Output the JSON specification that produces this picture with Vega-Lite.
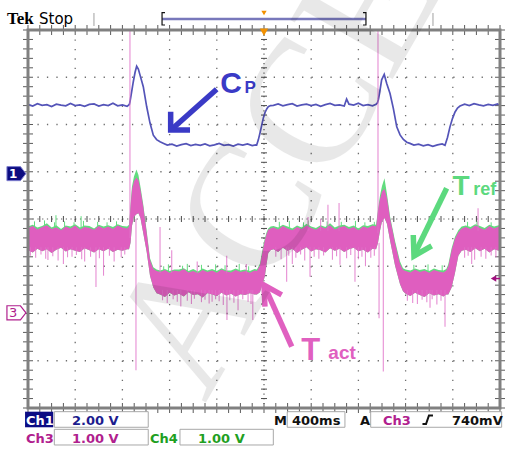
{
  "$schema": "https://vega.github.io/schema/vega-lite/v6.json",
  "width": 472,
  "height": 378,
  "autosize": {"type": "none"},
  "padding": {"left": 28, "top": 30, "right": 5, "bottom": 41},
  "background": "#ffffff",
  "config": {"view": {"stroke": null}},
  "resolve": {"scale": {"y": "independent"}},
  "datasets": {
    "vg": [{"t": -1600}, {"t": -1200}, {"t": -800}, {"t": -400}, {"t": 400}, {"t": 800}, {"t": 1200}, {"t": 1600}],
    "hg": [{"d": -3}, {"d": -2}, {"d": -1}, {"d": 1}, {"d": 2}, {"d": 3}],
    "xt": [{"t": -2000}, {"t": -1900}, {"t": -1800}, {"t": -1700}, {"t": -1600}, {"t": -1500}, {"t": -1400}, {"t": -1300}, {"t": -1200}, {"t": -1100}, {"t": -1000}, {"t": -900}, {"t": -800}, {"t": -700}, {"t": -600}, {"t": -500}, {"t": -400}, {"t": -300}, {"t": -200}, {"t": -100}, {"t": 0}, {"t": 100}, {"t": 200}, {"t": 300}, {"t": 400}, {"t": 500}, {"t": 600}, {"t": 700}, {"t": 800}, {"t": 900}, {"t": 1000}, {"t": 1100}, {"t": 1200}, {"t": 1300}, {"t": 1400}, {"t": 1500}, {"t": 1600}, {"t": 1700}, {"t": 1800}, {"t": 1900}, {"t": 2000}],
    "yt": [{"d": -4}, {"d": -3.8}, {"d": -3.6}, {"d": -3.4}, {"d": -3.2}, {"d": -3}, {"d": -2.8}, {"d": -2.6}, {"d": -2.4}, {"d": -2.2}, {"d": -2}, {"d": -1.8}, {"d": -1.6}, {"d": -1.4}, {"d": -1.2}, {"d": -1}, {"d": -0.8}, {"d": -0.6}, {"d": -0.4}, {"d": -0.2}, {"d": 0}, {"d": 0.2}, {"d": 0.4}, {"d": 0.6}, {"d": 0.8}, {"d": 1}, {"d": 1.2}, {"d": 1.4}, {"d": 1.6}, {"d": 1.8}, {"d": 2}, {"d": 2.2}, {"d": 2.4}, {"d": 2.6}, {"d": 2.8}, {"d": 3}, {"d": 3.2}, {"d": 3.4}, {"d": 3.6}, {"d": 3.8}, {"d": 4}],
    "ch1": [
      {"t": -2000, "v": 2.85}, {"t": -1960, "v": 2.78}, {"t": -1920, "v": 2.88}, {"t": -1880, "v": 2.81}, {"t": -1840, "v": 2.84}, {"t": -1800, "v": 2.76}, {"t": -1760, "v": 2.86}, {"t": -1720, "v": 2.82}, {"t": -1680, "v": 2.79}, {"t": -1640, "v": 2.89}, {"t": -1600, "v": 2.80}, {"t": -1560, "v": 2.83}, {"t": -1520, "v": 2.77}, {"t": -1480, "v": 2.85}, {"t": -1440, "v": 2.87}, {"t": -1400, "v": 2.78}, {"t": -1360, "v": 2.84}, {"t": -1320, "v": 2.80}, {"t": -1280, "v": 2.90}, {"t": -1240, "v": 2.79}, {"t": -1200, "v": 2.83}, {"t": -1160, "v": 2.77},
      {"t": -1141, "v": 2.85}, {"t": -1136, "v": 2.95}, {"t": -1121, "v": 3.40}, {"t": -1108, "v": 3.80}, {"t": -1093, "v": 4.20}, {"t": -1079, "v": 4.47}, {"t": -1065, "v": 4.35}, {"t": -1051, "v": 4.10}, {"t": -1023, "v": 3.60}, {"t": -994, "v": 2.75}, {"t": -966, "v": 2.06}, {"t": -938, "v": 1.55}, {"t": -910, "v": 1.36}, {"t": -881, "v": 1.27}, {"t": -850, "v": 1.20},
      {"t": -820, "v": 1.13}, {"t": -780, "v": 1.17}, {"t": -740, "v": 1.09}, {"t": -700, "v": 1.15}, {"t": -660, "v": 1.19}, {"t": -620, "v": 1.11}, {"t": -580, "v": 1.16}, {"t": -540, "v": 1.12}, {"t": -500, "v": 1.18}, {"t": -460, "v": 1.10}, {"t": -420, "v": 1.14}, {"t": -380, "v": 1.20}, {"t": -340, "v": 1.12}, {"t": -300, "v": 1.15}, {"t": -260, "v": 1.09}, {"t": -220, "v": 1.17}, {"t": -180, "v": 1.13}, {"t": -140, "v": 1.18}, {"t": -100, "v": 1.11}, {"t": -70, "v": 1.14},
      {"t": -62, "v": 1.13}, {"t": -48, "v": 1.35}, {"t": -34, "v": 1.64}, {"t": -20, "v": 1.95}, {"t": -6, "v": 2.27}, {"t": 8, "v": 2.50}, {"t": 22, "v": 2.65}, {"t": 36, "v": 2.75}, {"t": 56, "v": 2.80},
      {"t": 80, "v": 2.81}, {"t": 120, "v": 2.87}, {"t": 160, "v": 2.79}, {"t": 200, "v": 2.84}, {"t": 240, "v": 2.88}, {"t": 280, "v": 2.78}, {"t": 320, "v": 2.83}, {"t": 360, "v": 2.86}, {"t": 400, "v": 2.80}, {"t": 440, "v": 2.85}, {"t": 480, "v": 2.77}, {"t": 520, "v": 2.84}, {"t": 560, "v": 2.89}, {"t": 600, "v": 2.81}, {"t": 640, "v": 2.83}, {"t": 680, "v": 2.78}, {"t": 700, "v": 3.08}, {"t": 720, "v": 2.86}, {"t": 760, "v": 2.82}, {"t": 800, "v": 2.90}, {"t": 840, "v": 2.80}, {"t": 880, "v": 2.84}, {"t": 920, "v": 2.79}, {"t": 950, "v": 2.86},
      {"t": 962, "v": 2.92}, {"t": 969, "v": 3.05}, {"t": 983, "v": 3.45}, {"t": 997, "v": 3.89}, {"t": 1019, "v": 4.12}, {"t": 1040, "v": 3.74}, {"t": 1068, "v": 3.31}, {"t": 1096, "v": 2.68}, {"t": 1125, "v": 1.90}, {"t": 1153, "v": 1.56}, {"t": 1181, "v": 1.37}, {"t": 1210, "v": 1.25}, {"t": 1237, "v": 1.20},
      {"t": 1270, "v": 1.13}, {"t": 1310, "v": 1.17}, {"t": 1350, "v": 1.10}, {"t": 1390, "v": 1.15}, {"t": 1430, "v": 1.08}, {"t": 1470, "v": 1.14}, {"t": 1510, "v": 1.18}, {"t": 1534, "v": 1.12},
      {"t": 1555, "v": 1.45}, {"t": 1576, "v": 1.90}, {"t": 1597, "v": 2.25}, {"t": 1619, "v": 2.53}, {"t": 1640, "v": 2.70}, {"t": 1661, "v": 2.78},
      {"t": 1700, "v": 2.86}, {"t": 1740, "v": 2.80}, {"t": 1780, "v": 2.88}, {"t": 1820, "v": 2.83}, {"t": 1860, "v": 2.79}, {"t": 1900, "v": 2.85}, {"t": 1940, "v": 2.81}, {"t": 1980, "v": 2.87}, {"t": 2000, "v": 2.80}
    ],
    "ch34": [
      {"t": -2000, "lo": 1.34, "hi": 1.81, "g": 1.84}, {"t": -1960, "lo": 1.29, "hi": 1.85, "g": 1.88}, {"t": -1920, "lo": 1.37, "hi": 1.78, "g": 1.82}, {"t": -1880, "lo": 1.32, "hi": 1.83, "g": 1.85}, {"t": -1840, "lo": 1.36, "hi": 1.87, "g": 1.91}, {"t": -1800, "lo": 1.28, "hi": 1.79, "g": 1.82}, {"t": -1760, "lo": 1.35, "hi": 1.82, "g": 1.87}, {"t": -1720, "lo": 1.39, "hi": 1.76, "g": 1.79}, {"t": -1680, "lo": 1.31, "hi": 1.84, "g": 1.86}, {"t": -1640, "lo": 1.36, "hi": 1.80, "g": 1.84}, {"t": -1600, "lo": 1.33, "hi": 1.86, "g": 1.89}, {"t": -1560, "lo": 1.30, "hi": 1.78, "g": 1.82}, {"t": -1520, "lo": 1.38, "hi": 1.83, "g": 1.86}, {"t": -1480, "lo": 1.34, "hi": 1.81, "g": 1.85}, {"t": -1440, "lo": 1.29, "hi": 1.77, "g": 1.80}, {"t": -1400, "lo": 1.36, "hi": 1.85, "g": 1.88}, {"t": -1360, "lo": 1.32, "hi": 1.80, "g": 1.84}, {"t": -1320, "lo": 1.37, "hi": 1.84, "g": 1.87}, {"t": -1280, "lo": 1.30, "hi": 1.79, "g": 1.83}, {"t": -1240, "lo": 1.35, "hi": 1.86, "g": 1.89}, {"t": -1200, "lo": 1.33, "hi": 1.82, "g": 1.85}, {"t": -1160, "lo": 1.36, "hi": 1.80, "g": 1.84},
      {"t": -1144, "lo": 1.36, "hi": 1.84, "g": 1.88}, {"t": -1131, "lo": 1.50, "hi": 2.25, "g": 2.30}, {"t": -1119, "lo": 1.85, "hi": 2.62, "g": 2.68}, {"t": -1102, "lo": 2.05, "hi": 2.80, "g": 2.90}, {"t": -1081, "lo": 2.10, "hi": 2.88, "g": 3.05}, {"t": -1064, "lo": 2.12, "hi": 2.82, "g": 2.93}, {"t": -1047, "lo": 2.02, "hi": 2.62, "g": 2.68}, {"t": -1023, "lo": 1.70, "hi": 2.26, "g": 2.30}, {"t": -994, "lo": 1.30, "hi": 1.70, "g": 1.74}, {"t": -966, "lo": 0.80, "hi": 1.13, "g": 1.17}, {"t": -938, "lo": 0.55, "hi": 0.94, "g": 0.98}, {"t": -910, "lo": 0.43, "hi": 0.90, "g": 0.93},
      {"t": -880, "lo": 0.40, "hi": 0.88, "g": 0.91}, {"t": -840, "lo": 0.35, "hi": 0.92, "g": 0.94}, {"t": -800, "lo": 0.44, "hi": 0.86, "g": 0.90}, {"t": -760, "lo": 0.38, "hi": 0.91, "g": 0.93}, {"t": -720, "lo": 0.42, "hi": 0.89, "g": 0.93}, {"t": -680, "lo": 0.36, "hi": 0.94, "g": 0.96}, {"t": -640, "lo": 0.45, "hi": 0.87, "g": 0.90}, {"t": -600, "lo": 0.39, "hi": 0.90, "g": 0.94}, {"t": -560, "lo": 0.41, "hi": 0.85, "g": 0.89}, {"t": -520, "lo": 0.34, "hi": 0.92, "g": 0.95}, {"t": -480, "lo": 0.43, "hi": 0.88, "g": 0.91}, {"t": -440, "lo": 0.40, "hi": 0.91, "g": 0.94}, {"t": -400, "lo": 0.37, "hi": 0.86, "g": 0.90}, {"t": -360, "lo": 0.44, "hi": 0.93, "g": 0.96}, {"t": -320, "lo": 0.38, "hi": 0.89, "g": 0.91}, {"t": -280, "lo": 0.42, "hi": 0.87, "g": 0.91}, {"t": -240, "lo": 0.36, "hi": 0.92, "g": 0.95}, {"t": -200, "lo": 0.41, "hi": 0.88, "g": 0.91}, {"t": -160, "lo": 0.39, "hi": 0.90, "g": 0.93}, {"t": -120, "lo": 0.43, "hi": 0.86, "g": 0.90}, {"t": -80, "lo": 0.40, "hi": 0.91, "g": 0.94},
      {"t": -60, "lo": 0.40, "hi": 0.90, "g": 0.93}, {"t": -34, "lo": 0.45, "hi": 1.02, "g": 1.06}, {"t": -19, "lo": 0.57, "hi": 1.22, "g": 1.27}, {"t": -5, "lo": 0.68, "hi": 1.40, "g": 1.45}, {"t": 8, "lo": 0.80, "hi": 1.56, "g": 1.60}, {"t": 22, "lo": 1.05, "hi": 1.68, "g": 1.72}, {"t": 36, "lo": 1.28, "hi": 1.77, "g": 1.80}, {"t": 56, "lo": 1.34, "hi": 1.80, "g": 1.84},
      {"t": 80, "lo": 1.36, "hi": 1.82, "g": 1.85}, {"t": 120, "lo": 1.30, "hi": 1.78, "g": 1.82}, {"t": 160, "lo": 1.39, "hi": 1.85, "g": 1.88}, {"t": 200, "lo": 1.33, "hi": 1.80, "g": 1.84}, {"t": 240, "lo": 1.37, "hi": 1.76, "g": 1.80}, {"t": 280, "lo": 1.28, "hi": 1.83, "g": 1.86}, {"t": 320, "lo": 1.35, "hi": 1.79, "g": 1.82}, {"t": 360, "lo": 1.40, "hi": 1.86, "g": 1.90}, {"t": 400, "lo": 1.31, "hi": 1.81, "g": 1.84}, {"t": 440, "lo": 1.36, "hi": 1.77, "g": 1.81}, {"t": 480, "lo": 1.34, "hi": 1.84, "g": 1.87}, {"t": 520, "lo": 1.29, "hi": 1.80, "g": 1.83}, {"t": 560, "lo": 1.38, "hi": 1.87, "g": 1.91}, {"t": 600, "lo": 1.33, "hi": 1.78, "g": 1.82}, {"t": 640, "lo": 1.37, "hi": 1.82, "g": 1.86}, {"t": 680, "lo": 1.30, "hi": 1.85, "g": 1.88}, {"t": 720, "lo": 1.36, "hi": 1.79, "g": 1.83}, {"t": 760, "lo": 1.39, "hi": 1.83, "g": 1.86}, {"t": 800, "lo": 1.32, "hi": 1.76, "g": 1.80}, {"t": 840, "lo": 1.35, "hi": 1.84, "g": 1.87}, {"t": 880, "lo": 1.29, "hi": 1.81, "g": 1.85}, {"t": 920, "lo": 1.37, "hi": 1.86, "g": 1.89}, {"t": 950, "lo": 1.36, "hi": 1.84, "g": 1.88},
      {"t": 966, "lo": 1.50, "hi": 2.15, "g": 2.20}, {"t": 983, "lo": 1.75, "hi": 2.42, "g": 2.50}, {"t": 1000, "lo": 1.95, "hi": 2.58, "g": 2.70}, {"t": 1021, "lo": 2.02, "hi": 2.64, "g": 2.86}, {"t": 1042, "lo": 1.90, "hi": 2.45, "g": 2.53}, {"t": 1068, "lo": 1.55, "hi": 2.02, "g": 2.06}, {"t": 1110, "lo": 1.02, "hi": 1.50, "g": 1.54}, {"t": 1153, "lo": 0.62, "hi": 1.05, "g": 1.10}, {"t": 1178, "lo": 0.47, "hi": 0.92, "g": 0.96},
      {"t": 1200, "lo": 0.42, "hi": 0.90, "g": 0.93}, {"t": 1240, "lo": 0.37, "hi": 0.87, "g": 0.91}, {"t": 1280, "lo": 0.44, "hi": 0.93, "g": 0.95}, {"t": 1320, "lo": 0.39, "hi": 0.88, "g": 0.92}, {"t": 1360, "lo": 0.35, "hi": 0.91, "g": 0.94}, {"t": 1400, "lo": 0.43, "hi": 0.86, "g": 0.90}, {"t": 1440, "lo": 0.38, "hi": 0.92, "g": 0.95}, {"t": 1480, "lo": 0.41, "hi": 0.89, "g": 0.92}, {"t": 1520, "lo": 0.36, "hi": 0.87, "g": 0.91}, {"t": 1545, "lo": 0.40, "hi": 0.91, "g": 0.94},
      {"t": 1562, "lo": 0.40, "hi": 1.00, "g": 1.04}, {"t": 1590, "lo": 0.55, "hi": 1.34, "g": 1.38}, {"t": 1618, "lo": 0.85, "hi": 1.58, "g": 1.62}, {"t": 1647, "lo": 1.22, "hi": 1.72, "g": 1.76}, {"t": 1675, "lo": 1.33, "hi": 1.80, "g": 1.84},
      {"t": 1710, "lo": 1.35, "hi": 1.83, "g": 1.86}, {"t": 1750, "lo": 1.30, "hi": 1.79, "g": 1.83}, {"t": 1790, "lo": 1.38, "hi": 1.86, "g": 1.89}, {"t": 1830, "lo": 1.32, "hi": 1.81, "g": 1.85}, {"t": 1870, "lo": 1.37, "hi": 1.77, "g": 1.81}, {"t": 1910, "lo": 1.29, "hi": 1.85, "g": 1.88}, {"t": 1950, "lo": 1.36, "hi": 1.80, "g": 1.84}, {"t": 1990, "lo": 1.33, "hi": 1.84, "g": 1.87}, {"t": 2000, "lo": 1.35, "hi": 1.82, "g": 1.86}
    ],
    "spikes": [
      {"t": -1136, "a": 6.0, "b": 1.6}, {"t": -1085, "a": 2.0, "b": -1.2}, {"t": 966, "a": 6.0, "b": 1.7}, {"t": 1011, "a": 2.0, "b": -1.23}, {"t": 975, "a": 1.5, "b": -0.10},
      {"t": -1831, "a": 1.4, "b": 1.13}, {"t": -1700, "a": 1.4, "b": 1.05}, {"t": -1627, "a": 1.4, "b": 1.20}, {"t": -1520, "a": 1.4, "b": 1.10}, {"t": -1424, "a": 1.4, "b": 0.56}, {"t": -1360, "a": 1.4, "b": 0.80},
      {"t": 192, "a": 1.4, "b": 0.67}, {"t": 240, "a": 1.4, "b": 1.05}, {"t": 390, "a": 1.4, "b": 0.78}, {"t": 644, "a": 1.4, "b": 1.03}, {"t": 771, "a": 1.4, "b": 0.67}, {"t": 860, "a": 1.4, "b": 1.00}, {"t": 1760, "a": 1.4, "b": 1.05},
      {"t": 373, "a": 2.04, "b": 1.75}, {"t": 480, "a": 2.0, "b": 1.75}, {"t": 542, "a": 2.30, "b": 1.75}, {"t": 636, "a": 2.34, "b": 1.75}, {"t": 1814, "a": 2.23, "b": 1.75},
      {"t": -881, "a": 1.83, "b": 0.85}, {"t": -782, "a": 1.34, "b": 0.85}, {"t": -566, "a": 1.10, "b": 0.85}, {"t": -316, "a": 1.22, "b": 0.85}, {"t": -150, "a": 1.05, "b": 0.85},
      {"t": -705, "a": 0.5, "b": 0.15}, {"t": -440, "a": 0.5, "b": 0.25}, {"t": -314, "a": 0.5, "b": -0.14}, {"t": -220, "a": 0.5, "b": 0.07}, {"t": -95, "a": 0.5, "b": -0.14}, {"t": 1300, "a": 0.5, "b": 0.20}, {"t": 1407, "a": 0.5, "b": 0.12}, {"t": 1534, "a": 0.5, "b": -0.28},
      {"t": -1980, "a": 1.4, "b": 1.22}, {"t": -1935, "a": 1.4, "b": 1.18}, {"t": -1890, "a": 1.4, "b": 1.25}, {"t": -1850, "a": 1.4, "b": 1.16}, {"t": -1790, "a": 1.4, "b": 1.21}, {"t": -1745, "a": 1.4, "b": 1.12}, {"t": -1665, "a": 1.4, "b": 1.19}, {"t": -1590, "a": 1.4, "b": 1.24}, {"t": -1545, "a": 1.4, "b": 1.15}, {"t": -1470, "a": 1.4, "b": 1.20}, {"t": -1395, "a": 1.4, "b": 1.17}, {"t": -1310, "a": 1.4, "b": 1.22}, {"t": -1270, "a": 1.4, "b": 1.10}, {"t": -1210, "a": 1.4, "b": 1.19}, {"t": -1180, "a": 1.4, "b": 1.25},
      {"t": 100, "a": 1.4, "b": 1.20}, {"t": 145, "a": 1.4, "b": 1.15}, {"t": 210, "a": 1.4, "b": 1.22}, {"t": 270, "a": 1.4, "b": 1.18}, {"t": 310, "a": 1.4, "b": 1.25}, {"t": 345, "a": 1.4, "b": 1.12}, {"t": 425, "a": 1.4, "b": 1.20}, {"t": 465, "a": 1.4, "b": 1.16}, {"t": 505, "a": 1.4, "b": 1.23}, {"t": 580, "a": 1.4, "b": 1.14}, {"t": 615, "a": 1.4, "b": 1.21}, {"t": 700, "a": 1.4, "b": 1.17}, {"t": 735, "a": 1.4, "b": 1.24}, {"t": 800, "a": 1.4, "b": 1.15}, {"t": 830, "a": 1.4, "b": 1.20}, {"t": 905, "a": 1.4, "b": 1.18}, {"t": 935, "a": 1.4, "b": 1.22},
      {"t": 1700, "a": 1.4, "b": 1.18}, {"t": 1730, "a": 1.4, "b": 1.22}, {"t": 1785, "a": 1.4, "b": 1.14}, {"t": 1840, "a": 1.4, "b": 1.20}, {"t": 1880, "a": 1.4, "b": 1.16}, {"t": 1925, "a": 1.4, "b": 1.23}, {"t": 1965, "a": 1.4, "b": 1.19},
      {"t": -860, "a": 0.5, "b": 0.28}, {"t": -820, "a": 0.5, "b": 0.22}, {"t": -770, "a": 0.5, "b": 0.30}, {"t": -735, "a": 0.5, "b": 0.25}, {"t": -650, "a": 0.5, "b": 0.27}, {"t": -615, "a": 0.5, "b": 0.20}, {"t": -590, "a": 0.5, "b": 0.31}, {"t": -530, "a": 0.5, "b": 0.24}, {"t": -500, "a": 0.5, "b": 0.29}, {"t": -465, "a": 0.5, "b": 0.21}, {"t": -410, "a": 0.5, "b": 0.30}, {"t": -380, "a": 0.5, "b": 0.26}, {"t": -345, "a": 0.5, "b": 0.18}, {"t": -290, "a": 0.5, "b": 0.28}, {"t": -255, "a": 0.5, "b": 0.23}, {"t": -180, "a": 0.5, "b": 0.30}, {"t": -135, "a": 0.5, "b": 0.25}, {"t": -110, "a": 0.5, "b": 0.20},
      {"t": 1215, "a": 0.5, "b": 0.27}, {"t": 1260, "a": 0.5, "b": 0.22}, {"t": 1340, "a": 0.5, "b": 0.29}, {"t": 1380, "a": 0.5, "b": 0.24}, {"t": 1425, "a": 0.5, "b": 0.30}, {"t": 1465, "a": 0.5, "b": 0.19}, {"t": 1500, "a": 0.5, "b": 0.27}
    ],
    "gspikes": [
      {"t": -1945, "a": 1.95, "b": 1.75}, {"t": -1860, "a": 1.97, "b": 1.75}, {"t": -1775, "a": 1.93, "b": 1.75}, {"t": -1763, "a": 2.08, "b": 1.75}, {"t": -1690, "a": 1.95, "b": 1.75}, {"t": -1610, "a": 1.93, "b": 1.75}, {"t": -1550, "a": 2.06, "b": 1.75}, {"t": -1530, "a": 1.96, "b": 1.75}, {"t": -1410, "a": 1.94, "b": 1.75}, {"t": -1330, "a": 1.93, "b": 1.75}, {"t": -1250, "a": 1.95, "b": 1.75},
      {"t": 130, "a": 1.94, "b": 1.75}, {"t": 215, "a": 1.96, "b": 1.75}, {"t": 335, "a": 1.93, "b": 1.75}, {"t": 375, "a": 1.97, "b": 1.75}, {"t": 535, "a": 1.95, "b": 1.75}, {"t": 655, "a": 1.94, "b": 1.75}, {"t": 775, "a": 1.96, "b": 1.75}, {"t": 855, "a": 1.93, "b": 1.75}, {"t": 935, "a": 1.94, "b": 1.75},
      {"t": 1725, "a": 1.94, "b": 1.75}, {"t": 1805, "a": 1.95, "b": 1.75}, {"t": 1925, "a": 1.93, "b": 1.75},
      {"t": -850, "a": 1.00, "b": 0.85}, {"t": -810, "a": 1.04, "b": 0.85}, {"t": -690, "a": 1.01, "b": 0.85}, {"t": -650, "a": 1.05, "b": 0.85}, {"t": -530, "a": 1.03, "b": 0.85}, {"t": -410, "a": 1.04, "b": 0.85}, {"t": -330, "a": 1.02, "b": 0.85}, {"t": -210, "a": 1.05, "b": 0.85}, {"t": -130, "a": 1.00, "b": 0.85},
      {"t": 1270, "a": 1.03, "b": 0.85}, {"t": 1390, "a": 1.04, "b": 0.85}, {"t": 1510, "a": 1.02, "b": 0.85}
    ],
    "boxes": [
      {"t": -1777, "t2": -981, "d": -4.078, "d2": -4.408}, {"t": 197, "t2": 686, "d": -4.078, "d2": -4.408}, {"t": 904, "t2": 2014, "d": -4.078, "d2": -4.408},
      {"t": -1777, "t2": -981, "d": -4.451, "d2": -4.783}, {"t": -712, "t2": 79, "d": -4.451, "d2": -4.783}
    ],
    "arrowsCp": [
      {"p": "s", "k": 0, "t": -401, "d": 2.745}, {"p": "s", "k": 1, "t": -782, "d": 1.90},
      {"p": "h", "k": 0, "t": -791, "d": 2.271}, {"p": "h", "k": 1, "t": -791, "d": 1.884}, {"p": "h", "k": 2, "t": -627, "d": 1.884}
    ],
    "arrowsRef": [
      {"p": "s", "k": 0, "t": 1548, "d": 0.650}, {"p": "s", "k": 1, "t": 1276, "d": -0.74},
      {"p": "h", "k": 0, "t": 1265, "d": -0.339}, {"p": "h", "k": 1, "t": 1271, "d": -0.783}, {"p": "h", "k": 2, "t": 1421, "d": -0.571}
    ],
    "arrowsAct": [
      {"p": "s", "k": 0, "t": 235, "d": -2.703}, {"p": "s", "k": 1, "t": 8, "d": -1.44},
      {"p": "h", "k": 0, "t": 8, "d": -1.856}, {"p": "h", "k": 1, "t": 0, "d": -1.397}, {"p": "h", "k": 2, "t": 150, "d": -1.608}
    ]
  },
  "layer": [
    {
      "data": {"name": "vg"},
      "mark": {"type": "rule", "color": "#6e6e6e", "strokeWidth": 1.3, "strokeDash": [1.3, 8.15]},
      "encoding": {
        "x": {"field": "t", "type": "quantitative", "scale": {"domain": [-2000, 2000], "nice": false, "zero": false}, "axis": null},
        "y": {"datum": 4, "type": "quantitative", "scale": {"domain": [-4, 4], "nice": false, "zero": false}, "axis": null},
        "y2": {"datum": -4}
      }
    },
    {
      "data": {"name": "hg"},
      "mark": {"type": "rule", "color": "#6e6e6e", "strokeWidth": 1.3, "strokeDash": [1.3, 8.15]},
      "encoding": {
        "y": {"field": "d", "type": "quantitative", "scale": {"domain": [-4, 4], "nice": false, "zero": false}, "axis": null},
        "x": {"datum": -2000, "type": "quantitative", "scale": {"domain": [-2000, 2000], "nice": false, "zero": false}, "axis": null},
        "x2": {"datum": 2000}
      }
    },
    {
      "data": {"values": [{}]},
      "mark": {"type": "rule", "color": "#5a5a5a", "strokeWidth": 1.2, "strokeDash": [1.2, 3.52]},
      "encoding": {
        "x": {"datum": 0, "type": "quantitative", "scale": {"domain": [-2000, 2000], "nice": false, "zero": false}, "axis": null},
        "y": {"datum": 4, "type": "quantitative", "scale": {"domain": [-4, 4], "nice": false, "zero": false}, "axis": null},
        "y2": {"datum": -4}
      }
    },
    {
      "data": {"values": [{}]},
      "mark": {"type": "rule", "color": "#5a5a5a", "strokeWidth": 1.2, "strokeDash": [1.2, 3.52]},
      "encoding": {
        "y": {"datum": 0, "type": "quantitative", "scale": {"domain": [-4, 4], "nice": false, "zero": false}, "axis": null},
        "x": {"datum": -2000, "type": "quantitative", "scale": {"domain": [-2000, 2000], "nice": false, "zero": false}, "axis": null},
        "x2": {"datum": 2000}
      }
    },
    {
      "data": {"name": "xt"},
      "mark": {"type": "tick", "orient": "vertical", "size": 10, "thickness": 1, "color": "#5a5a5a", "opacity": 1},
      "encoding": {
        "x": {"field": "t", "type": "quantitative", "scale": {"domain": [-2000, 2000], "nice": false, "zero": false}, "axis": null},
        "y": {"datum": 4, "type": "quantitative", "scale": {"domain": [-4, 4], "nice": false, "zero": false}, "axis": null}
      }
    },
    {
      "data": {"name": "xt"},
      "mark": {"type": "tick", "orient": "vertical", "size": 10, "thickness": 1, "color": "#5a5a5a", "opacity": 1},
      "encoding": {
        "x": {"field": "t", "type": "quantitative", "scale": {"domain": [-2000, 2000], "nice": false, "zero": false}, "axis": null},
        "y": {"datum": -4, "type": "quantitative", "scale": {"domain": [-4, 4], "nice": false, "zero": false}, "axis": null}
      }
    },
    {
      "data": {"name": "xt"},
      "mark": {"type": "tick", "orient": "vertical", "size": 6, "thickness": 1, "color": "#4a4a4a", "opacity": 1},
      "encoding": {
        "x": {"field": "t", "type": "quantitative", "scale": {"domain": [-2000, 2000], "nice": false, "zero": false}, "axis": null},
        "y": {"datum": 0, "type": "quantitative", "scale": {"domain": [-4, 4], "nice": false, "zero": false}, "axis": null}
      }
    },
    {
      "data": {"name": "yt"},
      "mark": {"type": "tick", "orient": "horizontal", "size": 10, "thickness": 1, "color": "#5a5a5a", "opacity": 1},
      "encoding": {
        "y": {"field": "d", "type": "quantitative", "scale": {"domain": [-4, 4], "nice": false, "zero": false}, "axis": null},
        "x": {"datum": -2000, "type": "quantitative", "scale": {"domain": [-2000, 2000], "nice": false, "zero": false}, "axis": null}
      }
    },
    {
      "data": {"name": "yt"},
      "mark": {"type": "tick", "orient": "horizontal", "size": 10, "thickness": 1, "color": "#5a5a5a", "opacity": 1},
      "encoding": {
        "y": {"field": "d", "type": "quantitative", "scale": {"domain": [-4, 4], "nice": false, "zero": false}, "axis": null},
        "x": {"datum": 2000, "type": "quantitative", "scale": {"domain": [-2000, 2000], "nice": false, "zero": false}, "axis": null}
      }
    },
    {
      "data": {"name": "yt"},
      "mark": {"type": "tick", "orient": "horizontal", "size": 6, "thickness": 1, "color": "#4a4a4a", "opacity": 1},
      "encoding": {
        "y": {"field": "d", "type": "quantitative", "scale": {"domain": [-4, 4], "nice": false, "zero": false}, "axis": null},
        "x": {"datum": 0, "type": "quantitative", "scale": {"domain": [-2000, 2000], "nice": false, "zero": false}, "axis": null}
      }
    },
    {
      "data": {"name": "ch1"},
      "mark": {"type": "line", "color": "#5454b8", "strokeWidth": 1.7},
      "encoding": {
        "x": {"field": "t", "type": "quantitative", "scale": {"domain": [-2000, 2000], "nice": false, "zero": false}, "axis": null},
        "y": {"field": "v", "type": "quantitative", "scale": {"domain": [-10, 6], "nice": false, "zero": false}, "axis": null}
      }
    },
    {
      "data": {"name": "gspikes"},
      "mark": {"type": "rule", "color": "#62dc7e", "strokeWidth": 1},
      "encoding": {
        "x": {"field": "t", "type": "quantitative", "scale": {"domain": [-2000, 2000], "nice": false, "zero": false}, "axis": null},
        "y": {"field": "a", "type": "quantitative", "scale": {"domain": [-2, 6], "nice": false, "zero": false}, "axis": null},
        "y2": {"field": "b"}
      }
    },
    {
      "data": {"name": "ch34"},
      "mark": {"type": "area", "color": "#62dc7e", "opacity": 1},
      "encoding": {
        "x": {"field": "t", "type": "quantitative", "scale": {"domain": [-2000, 2000], "nice": false, "zero": false}, "axis": null},
        "y": {"field": "g", "type": "quantitative", "scale": {"domain": [-2, 6], "nice": false, "zero": false}, "axis": null},
        "y2": {"field": "lo"}
      }
    },
    {
      "data": {"name": "ch34"},
      "mark": {"type": "area", "color": "#df5ebf", "opacity": 1},
      "encoding": {
        "x": {"field": "t", "type": "quantitative", "scale": {"domain": [-2000, 2000], "nice": false, "zero": false}, "axis": null},
        "y": {"field": "hi", "type": "quantitative", "scale": {"domain": [-2, 6], "nice": false, "zero": false}, "axis": null},
        "y2": {"field": "lo"}
      }
    },
    {
      "data": {"name": "spikes"},
      "mark": {"type": "rule", "color": "#e070c8", "strokeWidth": 1.1, "opacity": 0.8},
      "encoding": {
        "x": {"field": "t", "type": "quantitative", "scale": {"domain": [-2000, 2000], "nice": false, "zero": false}, "axis": null},
        "y": {"field": "a", "type": "quantitative", "scale": {"domain": [-2, 6], "nice": false, "zero": false}, "axis": null},
        "y2": {"field": "b"}
      }
    },
    {
      "data": {"values": [{}]},
      "mark": {"type": "rect", "fillOpacity": 0, "stroke": "#808080", "strokeWidth": 3},
      "encoding": {
        "x": {"datum": -2000, "type": "quantitative", "scale": {"domain": [-2000, 2000], "nice": false, "zero": false}, "axis": null},
        "x2": {"datum": 2000},
        "y": {"datum": 4, "type": "quantitative", "scale": {"domain": [-4, 4], "nice": false, "zero": false}, "axis": null},
        "y2": {"datum": -4}
      }
    },
    {
      "data": {"values": [{"t": 0, "d": 3.955}]},
      "mark": {"type": "point", "shape": "triangle-down", "filled": true, "size": 70, "color": "#f29100", "opacity": 1},
      "encoding": {
        "x": {"field": "t", "type": "quantitative", "scale": {"domain": [-2000, 2000], "nice": false, "zero": false}, "axis": null},
        "y": {"field": "d", "type": "quantitative", "scale": {"domain": [-4, 4], "nice": false, "zero": false}, "axis": null}
      }
    },
    {
      "data": {"values": [{"t": 0, "d": 4.36}]},
      "mark": {"type": "point", "shape": "triangle-down", "filled": true, "size": 28, "color": "#f29100", "opacity": 1},
      "encoding": {
        "x": {"field": "t", "type": "quantitative", "scale": {"domain": [-2000, 2000], "nice": false, "zero": false}, "axis": null},
        "y": {"field": "d", "type": "quantitative", "scale": {"domain": [-4, 4], "nice": false, "zero": false}, "axis": null}
      }
    },
    {
      "data": {"values": [{"t": -864, "t2": 864, "d": 4.233}]},
      "mark": {"type": "rule", "color": "#7878bb", "strokeWidth": 2.5},
      "encoding": {
        "x": {"field": "t", "type": "quantitative", "scale": {"domain": [-2000, 2000], "nice": false, "zero": false}, "axis": null},
        "x2": {"field": "t2"},
        "y": {"field": "d", "type": "quantitative", "scale": {"domain": [-4, 4], "nice": false, "zero": false}, "axis": null}
      }
    },
    {
      "data": {"values": [
        {"p": "l", "k": 0, "t": -839, "d": 4.366}, {"p": "l", "k": 1, "t": -864, "d": 4.366}, {"p": "l", "k": 2, "t": -864, "d": 4.106}, {"p": "l", "k": 3, "t": -839, "d": 4.106},
        {"p": "r", "k": 0, "t": 839, "d": 4.366}, {"p": "r", "k": 1, "t": 864, "d": 4.366}, {"p": "r", "k": 2, "t": 864, "d": 4.106}, {"p": "r", "k": 3, "t": 839, "d": 4.106}
      ]},
      "mark": {"type": "line", "color": "#111111", "strokeWidth": 1.2},
      "encoding": {
        "x": {"field": "t", "type": "quantitative", "scale": {"domain": [-2000, 2000], "nice": false, "zero": false}, "axis": null},
        "y": {"field": "d", "type": "quantitative", "scale": {"domain": [-4, 4], "nice": false, "zero": false}, "axis": null},
        "detail": {"field": "p"},
        "order": {"field": "k"}
      }
    },
    {
      "data": {"values": [{"t": -1441, "d": 4.36, "d2": 4.085}, {"t": 1432, "d": 4.36, "d2": 4.085}]},
      "mark": {"type": "rule", "color": "#a0a0a0", "strokeWidth": 1},
      "encoding": {
        "x": {"field": "t", "type": "quantitative", "scale": {"domain": [-2000, 2000], "nice": false, "zero": false}, "axis": null},
        "y": {"field": "d", "type": "quantitative", "scale": {"domain": [-4, 4], "nice": false, "zero": false}, "axis": null},
        "y2": {"field": "d2"}
      }
    },
    {
      "data": {"values": [{"t": -2178, "d": 4.127, "s": "Tek"}]},
      "mark": {"type": "text", "align": "left", "baseline": "alphabetic", "font": "Liberation Serif", "fontWeight": "bold", "fontSize": 17, "color": "#000000"},
      "encoding": {
        "x": {"field": "t", "type": "quantitative", "scale": {"domain": [-2000, 2000], "nice": false, "zero": false}, "axis": null},
        "y": {"field": "d", "type": "quantitative", "scale": {"domain": [-4, 4], "nice": false, "zero": false}, "axis": null},
        "text": {"field": "s"}
      }
    },
    {
      "data": {"values": [{"t": -1907, "d": 4.127, "s": "Stop"}]},
      "mark": {"type": "text", "align": "left", "baseline": "alphabetic", "font": "DejaVu Sans", "fontSize": 15, "color": "#000000"},
      "encoding": {
        "x": {"field": "t", "type": "quantitative", "scale": {"domain": [-2000, 2000], "nice": false, "zero": false}, "axis": null},
        "y": {"field": "d", "type": "quantitative", "scale": {"domain": [-4, 4], "nice": false, "zero": false}, "axis": null},
        "text": {"field": "s"}
      }
    },
    {
      "data": {"values": [{"t": -2098, "d": 0.96}]},
      "mark": {"type": "point", "shape": "M-1,-0.74L0.42,-0.74L1,0L0.42,0.74L-1,0.74Z", "filled": true, "size": 361, "fill": "#0c0c80", "stroke": "#7f7fd0", "strokeWidth": 1, "opacity": 1},
      "encoding": {
        "x": {"field": "t", "type": "quantitative", "scale": {"domain": [-2000, 2000], "nice": false, "zero": false}, "axis": null},
        "y": {"field": "d", "type": "quantitative", "scale": {"domain": [-4, 4], "nice": false, "zero": false}, "axis": null}
      }
    },
    {
      "data": {"values": [{"t": -2098, "d": -1.985}]},
      "mark": {"type": "point", "shape": "M-1,-0.74L0.42,-0.74L1,0L0.42,0.74L-1,0.74Z", "filled": true, "size": 361, "fill": "#ffffff", "stroke": "#b0208e", "strokeWidth": 1.2, "opacity": 1},
      "encoding": {
        "x": {"field": "t", "type": "quantitative", "scale": {"domain": [-2000, 2000], "nice": false, "zero": false}, "axis": null},
        "y": {"field": "d", "type": "quantitative", "scale": {"domain": [-4, 4], "nice": false, "zero": false}, "axis": null}
      }
    },
    {
      "data": {"values": [{"t": -2125, "d": 0.96, "s": "1"}]},
      "mark": {"type": "text", "align": "center", "baseline": "middle", "font": "DejaVu Sans", "fontWeight": "bold", "fontSize": 12, "color": "#ffffff"},
      "encoding": {
        "x": {"field": "t", "type": "quantitative", "scale": {"domain": [-2000, 2000], "nice": false, "zero": false}, "axis": null},
        "y": {"field": "d", "type": "quantitative", "scale": {"domain": [-4, 4], "nice": false, "zero": false}, "axis": null},
        "text": {"field": "s"}
      }
    },
    {
      "data": {"values": [{"t": -2125, "d": -1.985, "s": "3"}]},
      "mark": {"type": "text", "align": "center", "baseline": "middle", "font": "DejaVu Sans", "fontSize": 13, "color": "#b0208e"},
      "encoding": {
        "x": {"field": "t", "type": "quantitative", "scale": {"domain": [-2000, 2000], "nice": false, "zero": false}, "axis": null},
        "y": {"field": "d", "type": "quantitative", "scale": {"domain": [-4, 4], "nice": false, "zero": false}, "axis": null},
        "text": {"field": "s"}
      }
    },
    {
      "data": {"values": [{"t": 1942, "t2": 2000, "v": 0.74}]},
      "mark": {"type": "rule", "color": "#a0107e", "strokeWidth": 1.5},
      "encoding": {
        "x": {"field": "t", "type": "quantitative", "scale": {"domain": [-2000, 2000], "nice": false, "zero": false}, "axis": null},
        "x2": {"field": "t2"},
        "y": {"field": "v", "type": "quantitative", "scale": {"domain": [-2, 6], "nice": false, "zero": false}, "axis": null}
      }
    },
    {
      "data": {"values": [{"t": 1945, "v": 0.74}]},
      "mark": {"type": "point", "shape": "triangle-left", "filled": true, "size": 40, "color": "#a0107e", "opacity": 1},
      "encoding": {
        "x": {"field": "t", "type": "quantitative", "scale": {"domain": [-2000, 2000], "nice": false, "zero": false}, "axis": null},
        "y": {"field": "v", "type": "quantitative", "scale": {"domain": [-2, 6], "nice": false, "zero": false}, "axis": null}
      }
    },
    {
      "data": {"values": [{"t": -2025, "t2": -1786, "d": -4.078, "d2": -4.408}]},
      "mark": {"type": "rect", "color": "#0c0c84"},
      "encoding": {
        "x": {"field": "t", "type": "quantitative", "scale": {"domain": [-2000, 2000], "nice": false, "zero": false}, "axis": null},
        "x2": {"field": "t2"},
        "y": {"field": "d", "type": "quantitative", "scale": {"domain": [-4, 4], "nice": false, "zero": false}, "axis": null},
        "y2": {"field": "d2"}
      }
    },
    {
      "data": {"name": "boxes"},
      "mark": {"type": "rect", "fill": "#ffffff", "stroke": "#a8a8a8", "strokeWidth": 1},
      "encoding": {
        "x": {"field": "t", "type": "quantitative", "scale": {"domain": [-2000, 2000], "nice": false, "zero": false}, "axis": null},
        "x2": {"field": "t2"},
        "y": {"field": "d", "type": "quantitative", "scale": {"domain": [-4, 4], "nice": false, "zero": false}, "axis": null},
        "y2": {"field": "d2"}
      }
    },
    {
      "data": {"values": [{"t": 85, "d": -4.353, "s": "M"}, {"t": 237, "d": -4.353, "s": "400ms"}, {"t": 814, "d": -4.353, "s": "A"}, {"t": 1593, "d": -4.353, "s": "740mV"}]},
      "mark": {"type": "text", "align": "left", "baseline": "alphabetic", "font": "DejaVu Sans", "fontWeight": "bold", "fontSize": 13, "color": "#111111"},
      "encoding": {
        "x": {"field": "t", "type": "quantitative", "scale": {"domain": [-2000, 2000], "nice": false, "zero": false}, "axis": null},
        "y": {"field": "d", "type": "quantitative", "scale": {"domain": [-4, 4], "nice": false, "zero": false}, "axis": null},
        "text": {"field": "s"}
      }
    },
    {
      "data": {"values": [{"t": -2017, "d": -4.353, "s": "Ch1"}]},
      "mark": {"type": "text", "align": "left", "baseline": "alphabetic", "font": "DejaVu Sans", "fontWeight": "bold", "fontSize": 13, "color": "#ffffff"},
      "encoding": {
        "x": {"field": "t", "type": "quantitative", "scale": {"domain": [-2000, 2000], "nice": false, "zero": false}, "axis": null},
        "y": {"field": "d", "type": "quantitative", "scale": {"domain": [-4, 4], "nice": false, "zero": false}, "axis": null},
        "text": {"field": "s"}
      }
    },
    {
      "data": {"values": [{"t": -1627, "d": -4.353, "s": "2.00 V"}]},
      "mark": {"type": "text", "align": "left", "baseline": "alphabetic", "font": "DejaVu Sans", "fontWeight": "bold", "fontSize": 13, "color": "#1c1c8e"},
      "encoding": {
        "x": {"field": "t", "type": "quantitative", "scale": {"domain": [-2000, 2000], "nice": false, "zero": false}, "axis": null},
        "y": {"field": "d", "type": "quantitative", "scale": {"domain": [-4, 4], "nice": false, "zero": false}, "axis": null},
        "text": {"field": "s"}
      }
    },
    {
      "data": {"values": [{"t": 1009, "d": -4.353, "s": "Ch3"}, {"t": -2017, "d": -4.735, "s": "Ch3"}, {"t": -1627, "d": -4.735, "s": "1.00 V"}]},
      "mark": {"type": "text", "align": "left", "baseline": "alphabetic", "font": "DejaVu Sans", "fontWeight": "bold", "fontSize": 13, "color": "#b0208e"},
      "encoding": {
        "x": {"field": "t", "type": "quantitative", "scale": {"domain": [-2000, 2000], "nice": false, "zero": false}, "axis": null},
        "y": {"field": "d", "type": "quantitative", "scale": {"domain": [-4, 4], "nice": false, "zero": false}, "axis": null},
        "text": {"field": "s"}
      }
    },
    {
      "data": {"values": [{"t": -966, "d": -4.735, "s": "Ch4"}, {"t": -559, "d": -4.735, "s": "1.00 V"}]},
      "mark": {"type": "text", "align": "left", "baseline": "alphabetic", "font": "DejaVu Sans", "fontWeight": "bold", "fontSize": 13, "color": "#1fa01f"},
      "encoding": {
        "x": {"field": "t", "type": "quantitative", "scale": {"domain": [-2000, 2000], "nice": false, "zero": false}, "axis": null},
        "y": {"field": "d", "type": "quantitative", "scale": {"domain": [-4, 4], "nice": false, "zero": false}, "axis": null},
        "text": {"field": "s"}
      }
    },
    {
      "data": {"values": [{"k": 0, "t": 1343, "d": -4.339}, {"k": 1, "t": 1373, "d": -4.339}, {"k": 2, "t": 1398, "d": -4.159}, {"k": 3, "t": 1432, "d": -4.159}]},
      "mark": {"type": "line", "color": "#111111", "strokeWidth": 2},
      "encoding": {
        "x": {"field": "t", "type": "quantitative", "scale": {"domain": [-2000, 2000], "nice": false, "zero": false}, "axis": null},
        "y": {"field": "d", "type": "quantitative", "scale": {"domain": [-4, 4], "nice": false, "zero": false}, "axis": null},
        "order": {"field": "k"}
      }
    },
    {
      "data": {"name": "arrowsCp"},
      "mark": {"type": "line", "color": "#3a3ac6", "strokeWidth": 5.5, "strokeJoin": "miter", "strokeCap": "butt"},
      "encoding": {
        "x": {"field": "t", "type": "quantitative", "scale": {"domain": [-2000, 2000], "nice": false, "zero": false}, "axis": null},
        "y": {"field": "d", "type": "quantitative", "scale": {"domain": [-4, 4], "nice": false, "zero": false}, "axis": null},
        "detail": {"field": "p"},
        "order": {"field": "k"}
      }
    },
    {
      "data": {"name": "arrowsRef"},
      "mark": {"type": "line", "color": "#5cd97e", "strokeWidth": 5.5, "strokeJoin": "miter", "strokeCap": "butt"},
      "encoding": {
        "x": {"field": "t", "type": "quantitative", "scale": {"domain": [-2000, 2000], "nice": false, "zero": false}, "axis": null},
        "y": {"field": "d", "type": "quantitative", "scale": {"domain": [-4, 4], "nice": false, "zero": false}, "axis": null},
        "detail": {"field": "p"},
        "order": {"field": "k"}
      }
    },
    {
      "data": {"name": "arrowsAct"},
      "mark": {"type": "line", "color": "#e060c0", "strokeWidth": 5.5, "strokeJoin": "miter", "strokeCap": "butt"},
      "encoding": {
        "x": {"field": "t", "type": "quantitative", "scale": {"domain": [-2000, 2000], "nice": false, "zero": false}, "axis": null},
        "y": {"field": "d", "type": "quantitative", "scale": {"domain": [-4, 4], "nice": false, "zero": false}, "axis": null},
        "detail": {"field": "p"},
        "order": {"field": "k"}
      }
    },
    {
      "data": {"values": [{"t": -371, "d": 2.66, "s": "C"}]},
      "mark": {"type": "text", "align": "left", "baseline": "alphabetic", "font": "Liberation Sans", "fontWeight": "bold", "fontSize": 30, "color": "#3a3ac6"},
      "encoding": {
        "x": {"field": "t", "type": "quantitative", "scale": {"domain": [-2000, 2000], "nice": false, "zero": false}, "axis": null},
        "y": {"field": "d", "type": "quantitative", "scale": {"domain": [-4, 4], "nice": false, "zero": false}, "axis": null},
        "text": {"field": "s"}
      }
    },
    {
      "data": {"values": [{"t": -165, "d": 2.673, "s": "P"}]},
      "mark": {"type": "text", "align": "left", "baseline": "alphabetic", "font": "Liberation Sans", "fontWeight": "bold", "fontSize": 17, "color": "#3a3ac6"},
      "encoding": {
        "x": {"field": "t", "type": "quantitative", "scale": {"domain": [-2000, 2000], "nice": false, "zero": false}, "axis": null},
        "y": {"field": "d", "type": "quantitative", "scale": {"domain": [-4, 4], "nice": false, "zero": false}, "axis": null},
        "text": {"field": "s"}
      }
    },
    {
      "data": {"values": [{"t": 1598, "d": 0.508, "s": "T"}]},
      "mark": {"type": "text", "align": "left", "baseline": "alphabetic", "font": "Liberation Sans", "fontWeight": "bold", "fontSize": 28, "color": "#5cd97e"},
      "encoding": {
        "x": {"field": "t", "type": "quantitative", "scale": {"domain": [-2000, 2000], "nice": false, "zero": false}, "axis": null},
        "y": {"field": "d", "type": "quantitative", "scale": {"domain": [-4, 4], "nice": false, "zero": false}, "axis": null},
        "text": {"field": "s"}
      }
    },
    {
      "data": {"values": [{"t": 1774, "d": 0.508, "s": "ref"}]},
      "mark": {"type": "text", "align": "left", "baseline": "alphabetic", "font": "Liberation Sans", "fontWeight": "bold", "fontSize": 18, "color": "#5cd97e"},
      "encoding": {
        "x": {"field": "t", "type": "quantitative", "scale": {"domain": [-2000, 2000], "nice": false, "zero": false}, "axis": null},
        "y": {"field": "d", "type": "quantitative", "scale": {"domain": [-4, 4], "nice": false, "zero": false}, "axis": null},
        "text": {"field": "s"}
      }
    },
    {
      "data": {"values": [{"t": 315, "d": -2.984, "s": "T"}]},
      "mark": {"type": "text", "align": "left", "baseline": "alphabetic", "font": "Liberation Sans", "fontWeight": "bold", "fontSize": 31, "color": "#e060c0"},
      "encoding": {
        "x": {"field": "t", "type": "quantitative", "scale": {"domain": [-2000, 2000], "nice": false, "zero": false}, "axis": null},
        "y": {"field": "d", "type": "quantitative", "scale": {"domain": [-4, 4], "nice": false, "zero": false}, "axis": null},
        "text": {"field": "s"}
      }
    },
    {
      "data": {"values": [{"t": 545, "d": -2.97, "s": "act"}]},
      "mark": {"type": "text", "align": "left", "baseline": "alphabetic", "font": "Liberation Sans", "fontWeight": "bold", "fontSize": 19, "color": "#e060c0"},
      "encoding": {
        "x": {"field": "t", "type": "quantitative", "scale": {"domain": [-2000, 2000], "nice": false, "zero": false}, "axis": null},
        "y": {"field": "d", "type": "quantitative", "scale": {"domain": [-4, 4], "nice": false, "zero": false}, "axis": null},
        "text": {"field": "s"}
      }
    },
    {
      "data": {"values": [{"t": -500, "d": -3.915, "s": "ACCEPTED"}]},
      "mark": {"type": "text", "align": "left", "baseline": "alphabetic", "font": "Liberation Serif", "fontSize": 180, "angle": -60, "color": "#000000", "opacity": 0.085},
      "encoding": {
        "x": {"field": "t", "type": "quantitative", "scale": {"domain": [-2000, 2000], "nice": false, "zero": false}, "axis": null},
        "y": {"field": "d", "type": "quantitative", "scale": {"domain": [-4, 4], "nice": false, "zero": false}, "axis": null},
        "text": {"field": "s"}
      }
    }
  ]
}
